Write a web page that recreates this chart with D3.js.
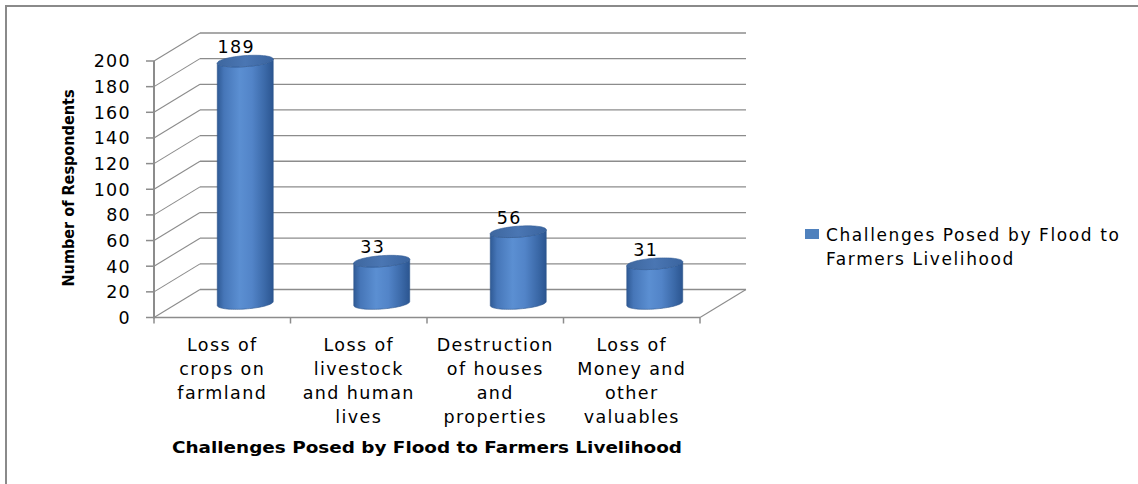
<!DOCTYPE html>
<html>
<head>
<meta charset="utf-8">
<script src="https://cdn.jsdelivr.net/npm/d3@7"></script>
<style>
  html, body { margin: 0; padding: 0; background: #fff; }
  svg { display: block; }
  text { font-family: "DejaVu Sans", Verdana, sans-serif; fill: #000; }
</style>
</head>
<body>
<div id="chart"></div>
<script>
// Survey results: challenges posed by flood to farmers' livelihood
const categories = [
  "Loss of crops on farmland",
  "Loss of livestock and human lives",
  "Destruction of houses and properties",
  "Loss of Money and other valuables"
];
const categoryLines = [
  ["Loss of", "crops on", "farmland"],
  ["Loss of", "livestock", "and human", "lives"],
  ["Destruction", "of houses", "and", "properties"],
  ["Loss of", "Money and", "other", "valuables"]
];
const values = [189, 33, 56, 31];
const yTicks = [0, 20, 40, 60, 80, 100, 120, 140, 160, 180, 200];
const seriesName = "Challenges Posed by Flood to Farmers Livelihood";
const legendLines = ["Challenges Posed by Flood to", "Farmers Livelihood"];
const xTitle = "Challenges Posed by Flood to Farmers Livelihood";
const yTitle = "Number of Respondents";

const W = 1138, H = 484;
const svg = d3.select("#chart").append("svg").attr("width", W).attr("height", H);

// outer frame
svg.append("rect").attr("x", 6).attr("y", 6).attr("width", W + 20).attr("height", H + 20)
  .attr("fill", "none").attr("stroke", "#8a8a8a").attr("stroke-width", 2);

// front plane scales plus the depth offset of the 3-D box
const x = d3.scaleBand().domain(categories).range([154, 700]);
const y = d3.scaleLinear().domain([0, 200]).range([317.5, 61]);
const depth = { dx: 46, dy: -28 };
const gridColor = "#8c8c8c";

const defs = svg.append("defs");
const bodyGrad = defs.append("linearGradient").attr("id", "cylBody")
  .attr("x1", "0").attr("x2", "1").attr("y1", "0").attr("y2", "0");
[["0%", "#2f5a95"], ["12%", "#4676b8"], ["40%", "#5b8fd2"], ["62%", "#5284c8"],
 ["85%", "#3b69a8"], ["100%", "#2b5590"]].forEach(([o, c]) =>
  bodyGrad.append("stop").attr("offset", o).attr("stop-color", c));
const topGrad = defs.append("linearGradient").attr("id", "cylTop")
  .attr("x1", "0").attr("x2", "1").attr("y1", "0").attr("y2", "0");
[["0%", "#3e679f"], ["50%", "#4a76b3"], ["100%", "#3a649f"]].forEach(([o, c]) =>
  topGrad.append("stop").attr("offset", o).attr("stop-color", c));

const grid = svg.append("g").attr("stroke", gridColor).attr("fill", "none");
const x0 = x.range()[0], x1 = x.range()[1];

// back wall gridlines and side wall diagonals
yTicks.forEach(v => {
  grid.append("line")
    .attr("x1", x0 + depth.dx).attr("x2", x1 + depth.dx)
    .attr("y1", y(v) + depth.dy).attr("y2", y(v) + depth.dy)
    .attr("stroke-width", 1.3);
  grid.append("line")
    .attr("x1", x0).attr("y1", y(v))
    .attr("x2", x0 + depth.dx).attr("y2", y(v) + depth.dy)
    .attr("stroke-width", 1.1);
});
// floor front edge and right floor edge
grid.append("line").attr("x1", x0).attr("x2", x1).attr("y1", y(0)).attr("y2", y(0)).attr("stroke-width", 1.5);
grid.append("line").attr("x1", x1).attr("y1", y(0))
  .attr("x2", x1 + depth.dx).attr("y2", y(0) + depth.dy).attr("stroke-width", 1.1);

// value axis
grid.append("line").attr("x1", x0).attr("x2", x0).attr("y1", y(0) + 1).attr("y2", y(200))
  .attr("stroke-width", 2);
yTicks.forEach(v => {
  grid.append("line").attr("x1", x0 - 8).attr("x2", x0).attr("y1", y(v)).attr("y2", y(v))
    .attr("stroke-width", 1.5);
});
svg.append("g").selectAll("text").data(yTicks).join("text")
  .attr("x", 131).attr("y", v => y(v)).attr("dy", "0.36em")
  .attr("text-anchor", "end").attr("font-size", 17.5).attr("letter-spacing", 1.3)
  .text(v => v);

// category ticks
x.domain().concat([null]).forEach(c => {
  const xx = c === null ? x1 : x(c);
  grid.append("line").attr("x1", xx).attr("x2", xx).attr("y1", y(0)).attr("y2", y(0) + 6)
    .attr("stroke-width", 1.5);
});

// cylinders
const rx = x.bandwidth() * 0.205, ry = 5.5, shear = 2;
function ellipsePt(cx, cy, t) {
  return [cx + rx * Math.cos(t), cy + ry * Math.sin(t) - shear * Math.cos(t)];
}
const line = d3.line();
const bars = svg.append("g");
categories.forEach((c, i) => {
  const cx = x(c) + x.bandwidth() / 2 + depth.dx / 2;
  const cyTop = y(values[i]) + depth.dy / 2;
  const cyBot = y(0) + depth.dy / 2;
  const pts = [];
  const N = 40;
  for (let k = 0; k <= N; k++) pts.push(ellipsePt(cx, cyBot, Math.PI - Math.PI * k / N));
  for (let k = 0; k <= N; k++) pts.push(ellipsePt(cx, cyTop, Math.PI * k / N));
  bars.append("path").attr("d", line(pts) + "Z").attr("fill", "url(#cylBody)")
    .attr("stroke", "#2b548c").attr("stroke-width", 0.6);
  const top = [];
  for (let k = 0; k <= 2 * N; k++) top.push(ellipsePt(cx, cyTop, Math.PI * 2 * k / (2 * N)));
  bars.append("path").attr("d", line(top) + "Z").attr("fill", "url(#cylTop)")
    .attr("stroke", "#335d96").attr("stroke-width", 0.6);
  // data label
  bars.append("text").attr("x", cx - 9).attr("y", cyTop - 8)
    .attr("text-anchor", "middle").attr("font-size", 17.5).attr("letter-spacing", 1.3)
    .text(values[i]);
});

// category labels
const lab = svg.append("g");
categories.forEach((c, i) => {
  const cx = x(c) + x.bandwidth() / 2;
  categoryLines[i].forEach((ln, j) => {
    lab.append("text").attr("x", cx).attr("y", 351 + j * 24)
      .attr("text-anchor", "middle").attr("font-size", 17.5).attr("letter-spacing", 1.4)
      .text(ln);
  });
});

// axis titles
svg.append("text").attr("x", 427).attr("y", 453).attr("text-anchor", "middle")
  .attr("font-size", 15.5).attr("font-weight", "bold")
  .attr("textLength", 510).attr("lengthAdjust", "spacingAndGlyphs")
  .text(xTitle);
svg.append("text").attr("transform", "translate(68,188) rotate(-90)")
  .attr("text-anchor", "middle").attr("dy", "0.36em")
  .attr("font-size", 15.5).attr("font-weight", "bold")
  .attr("textLength", 197).attr("lengthAdjust", "spacingAndGlyphs")
  .text(yTitle);

// legend
const lg = svg.append("g").attr("aria-label", seriesName);
lg.append("rect").attr("x", 805).attr("y", 229).attr("width", 14).attr("height", 10)
  .attr("fill", "#4f81bd");
legendLines.forEach((ln, j) => {
  lg.append("text").attr("x", 826).attr("y", 241 + j * 24)
    .attr("font-size", 17).attr("letter-spacing", 1.6).text(ln);
});
</script>
</body>
</html>
